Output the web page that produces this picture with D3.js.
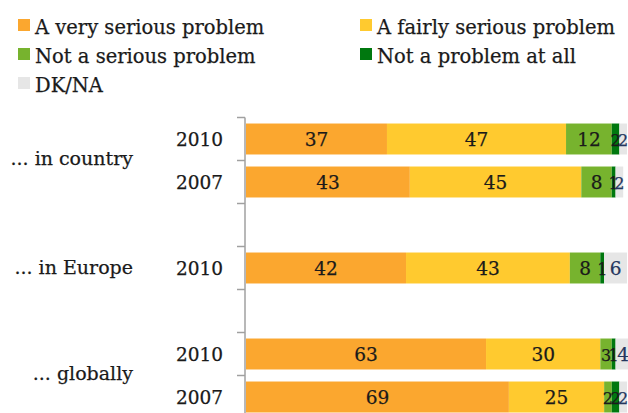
<!DOCTYPE html>
<html>
<head>
<meta charset="utf-8">
<script src="https://cdn.jsdelivr.net/npm/d3@7"></script>
<style>
  html, body { margin: 0; padding: 0; background: #fff; }
  svg { display: block; }
  text { font-family: "DejaVu Serif", "Liberation Serif", serif; fill: #1a1a1a; stroke: #1a1a1a; stroke-width: 0.25px; }
</style>
</head>
<body>
<svg id="chart" width="628" height="413"></svg>
<script>
// Survey responses: how serious a problem is it ... (percent)
const seriesNames = ["A very serious problem", "A fairly serious problem", "Not a serious problem", "Not a problem at all", "DK/NA"];
const seriesColors = ["#FBA72F", "#FFCA2F", "#77B32E", "#00780F", "#E6E6E6"];

// One row per bar, top to bottom
const rowGroups = ["... in country", "... in country", "... in Europe", "... globally", "... globally"];
const rowYears  = ["2010", "2007", "2010", "2010", "2007"];

const verySerious   = [37, 43, 42, 63, 69];
const fairlySerious = [47, 45, 43, 30, 25];
const notSerious    = [12, 8, 8, 3, 2];
const notAtAll      = [2, 1, 1, 1, 2];
const dkNa          = [2, 2, 6, 4, 2];

// Vertical slots, including the empty gaps between groups
const slots = ["c2010", "c2007", "gap1", "e2010", "gap2", "g2010", "g2007"];
const rowSlots = ["c2010", "c2007", "e2010", "g2010", "g2007"];
const groupLabels = ["... in country", "... in Europe", "... globally"];
const groupSlots = [["c2010", "c2007"], ["e2010"], ["g2010", "g2007"]];

const values = [verySerious, fairlySerious, notSerious, notAtAll, dkNa];

const svg = d3.select("#chart");

const x = d3.scaleLinear().domain([0, 100]).range([246, 627]);
const y = d3.scaleBand().domain(slots).range([117.5, 418.5]).paddingInner(0.28).paddingOuter(0.14);

// Legend
const legendItems = seriesNames.map((name, i) => ({ name, color: seriesColors[i], col: i % 2, row: Math.floor(i / 2) }));
const legend = svg.append("g");
const lg = legend.selectAll("g").data(legendItems).join("g")
  .attr("transform", d => `translate(${d.col === 0 ? 18 : 360},${19 + d.row * 29})`);
lg.append("rect").attr("width", 12).attr("height", 12).attr("fill", d => d.color);
lg.append("text").attr("x", 17).attr("y", 15).attr("font-size", 19.5).text(d => d.name);

// Stacked bar segments
const rows = rowSlots.map((slot, r) => {
  let acc = 0;
  const segs = values.map((arr, s) => {
    const v = arr[r];
    const seg = { slot, s, v, x0: acc, x1: acc + v };
    acc += v;
    return seg;
  });
  return { slot, segs, year: rowYears[r] };
});

const bars = svg.append("g");
bars.selectAll("g").data(rows).join("g")
  .each(function (row) {
    const g = d3.select(this);
    g.selectAll("rect").data(row.segs).join("rect")
      .attr("x", d => x(d.x0))
      .attr("y", y(row.slot))
      .attr("width", d => Math.max(0, x(d.x1) - x(d.x0)))
      .attr("height", y.bandwidth())
      .attr("fill", d => seriesColors[d.s]);
    g.selectAll("text").data(row.segs).join("text")
      .attr("x", d => (x(d.x0) + x(d.x1)) / 2)
      .attr("y", y(row.slot) + y.bandwidth() / 2 + 7)
      .attr("text-anchor", "middle")
      .attr("font-size", d => d.s >= 2 && d.v < 4 ? 16 : 18.5)
      .style("fill", d => d.s === 4 ? "#24365e" : "#1a1a1a")
      .style("stroke", d => d.s === 4 ? "#24365e" : "#1a1a1a")
      .text(d => d.v);
  });

// Axis line with ticks on slot boundaries
const axis = svg.append("g");
axis.append("line")
  .attr("x1", 245).attr("x2", 245)
  .attr("y1", y.range()[0]).attr("y2", 413)
  .attr("stroke", "#a0a0a0").attr("stroke-width", 1.5);
const bounds = d3.range(slots.length + 1).map(i => y.range()[0] + i * y.step());
axis.selectAll("line.tick").data(bounds).join("line")
  .attr("class", "tick")
  .attr("x1", 237).attr("x2", 245)
  .attr("y1", d => d).attr("y2", d => d)
  .attr("stroke", "#a0a0a0").attr("stroke-width", 1.5);

// Year labels
svg.append("g").selectAll("text").data(rows).join("text")
  .attr("x", 223)
  .attr("y", d => y(d.slot) + y.bandwidth() / 2 + 7)
  .attr("text-anchor", "end")
  .attr("font-size", 18.5)
  .text(d => d.year);

// Group labels
svg.append("g").selectAll("text").data(groupLabels).join("text")
  .attr("x", 133)
  .attr("y", (d, i) => {
    const s = groupSlots[i];
    const top = y(s[0]);
    const bot = y(s[s.length - 1]) + y.bandwidth();
    return (top + bot) / 2 + (s.length > 1 ? 4 : 6);
  })
  .attr("text-anchor", "end")
  .attr("font-size", 19)
  .text(d => d);
</script>
</body>
</html>
